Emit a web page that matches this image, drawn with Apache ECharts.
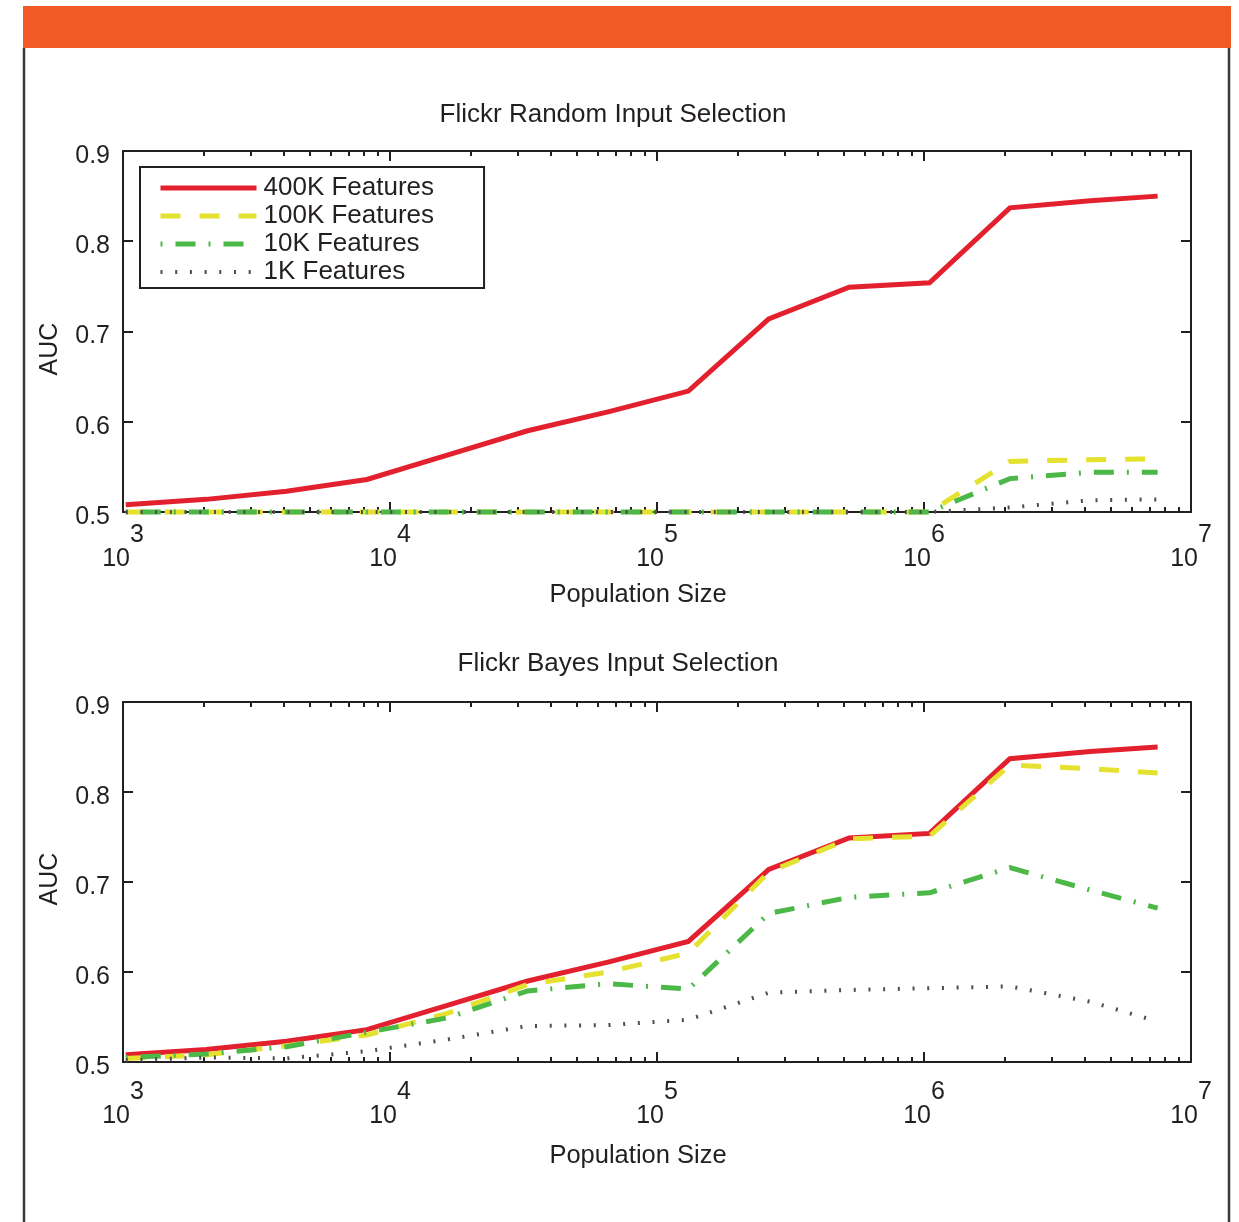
<!DOCTYPE html>
<html>
<head>
<meta charset="utf-8">
<title>Flickr input selection</title>
<script src="https://cdn.jsdelivr.net/npm/echarts@6/dist/echarts.min.js"></script>
<style>
  html, body { margin: 0; padding: 0; background: #fff; }
  #chart { width: 1239px; height: 1222px; }
</style>
</head>
<body>
<div id="chart"></div>
<script>
// x: population sizes shared by every curve
const popSizes = [1024, 2048, 4096, 8192, 16384, 32768, 65536, 131072, 262144, 524288, 1048576, 2097152, 4194304, 7500000];

const seriesNames = ['400K Features', '100K Features', '10K Features', '1K Features'];

// top panel: Flickr Random Input Selection
const random400K = [0.508, 0.514, 0.523, 0.536, 0.563, 0.590, 0.611, 0.634, 0.714, 0.749, 0.754, 0.837, 0.845, 0.850];
const random100K = [0.500, 0.500, 0.500, 0.500, 0.500, 0.500, 0.500, 0.500, 0.500, 0.500, 0.500, 0.556, 0.558, 0.559];
const random10K  = [0.500, 0.500, 0.500, 0.500, 0.500, 0.500, 0.500, 0.500, 0.500, 0.500, 0.500, 0.537, 0.544, 0.544];
const random1K   = [0.500, 0.500, 0.500, 0.500, 0.500, 0.500, 0.500, 0.500, 0.500, 0.500, 0.500, 0.505, 0.513, 0.514];

// bottom panel: Flickr Bayes Input Selection
const bayes400K = [0.508, 0.514, 0.523, 0.536, 0.563, 0.590, 0.611, 0.634, 0.714, 0.749, 0.754, 0.837, 0.845, 0.850];
const bayes100K = [0.504, 0.508, 0.518, 0.530, 0.554, 0.586, 0.600, 0.621, 0.711, 0.748, 0.751, 0.830, 0.826, 0.821];
const bayes10K  = [0.505, 0.509, 0.517, 0.533, 0.549, 0.579, 0.587, 0.581, 0.665, 0.683, 0.688, 0.716, 0.691, 0.671];
const bayes1K   = [0.502, 0.505, 0.504, 0.512, 0.525, 0.540, 0.541, 0.547, 0.577, 0.580, 0.582, 0.584, 0.567, 0.545];

const decades = [1e3, 1e4, 1e5, 1e6];
const minorMults = [2, 3, 4, 5, 6, 7, 8, 9];
const minorTicks = decades.flatMap(d => minorMults.map(m => d * m));

const INK = '#231f20';
const FONT = '"Liberation Sans", Arial, Helvetica, sans-serif';

const styles = {
  '400K Features': { color: '#e3202d', width: 5, type: 'solid' },
  '100K Features': { color: '#e4e12f', width: 5, type: [20, 19] },
  '10K Features':  { color: '#4cb848', width: 5, type: [2, 13, 20, 13] },
  '1K Features':   { color: '#4d4d4d', width: 4, type: [2, 12.7] },
};

function makeSeries(name, values, xIdx, yIdx) {
  const s = styles[name];
  return {
    name, type: 'line', xAxisIndex: xIdx, yAxisIndex: yIdx,
    data: popSizes.map((p, i) => [p, values[i]]),
    symbol: 'none', clip: false, animation: false,
    lineStyle: { color: s.color, width: s.width, type: s.type, cap: 'butt', join: 'miter' },
    itemStyle: { color: s.color },
  };
}

function xAxes(gridIndex, labelMargin) {
  const common = { type: 'log', logBase: 10, min: 1e3, max: 1e7, gridIndex, splitLine: { show: false } };
  const line = { show: true, lineStyle: { color: INK, width: 2 } };
  const major = { show: true, inside: true, length: 10, lineStyle: { color: INK, width: 2 } };
  const minor = { show: true, inside: true, length: 5, customValues: minorTicks, lineStyle: { color: INK, width: 2 } };
  return [
    {
      ...common, position: 'bottom', axisLine: line, axisTick: major,
      axisLabel: {
        margin: labelMargin,
        formatter: v => '{b|10}{e|' + Math.round(Math.log10(v)) + '}',
        rich: {
          b: { fontSize: 25, fontFamily: FONT, color: INK, verticalAlign: 'bottom' },
          e: { fontSize: 25, fontFamily: FONT, color: INK, verticalAlign: 'bottom', padding: [0, 0, 24, 0] },
        },
      },
    },
    { ...common, position: 'bottom', axisLine: { show: false }, axisTick: minor, axisLabel: { show: false } },
    { ...common, position: 'top', axisLine: line, axisTick: major, axisLabel: { show: false } },
    { ...common, position: 'top', axisLine: { show: false }, axisTick: minor, axisLabel: { show: false } },
  ];
}

function yAxes(gridIndex) {
  const common = { type: 'value', min: 0.5, max: 0.9, interval: 0.1, gridIndex, splitLine: { show: false },
    axisLine: { show: true, lineStyle: { color: INK, width: 2 } },
    axisTick: { show: true, inside: true, length: 10, lineStyle: { color: INK, width: 2 } } };
  return [
    { ...common, position: 'left',
      axisLabel: {
        margin: 13,
        formatter: v => '{v|' + v.toFixed(1) + '}',
        rich: { v: { fontSize: 25, fontFamily: FONT, color: INK, verticalAlign: 'bottom', padding: [10, 0, 0, 0] } },
      } },
    { ...common, position: 'right', axisLabel: { show: false } },
  ];
}

function text(str, x, y, size, rotation) {
  return {
    type: 'text', x, y, rotation: rotation || 0,
    style: { text: str, font: size + 'px ' + FONT, fill: INK, textAlign: 'center', textVerticalAlign: 'middle' },
  };
}

const chart = echarts.init(document.getElementById('chart'));

chart.setOption({
  backgroundColor: '#fff',
  animation: false,
  grid: [
    { left: 123, top: 151, width: 1068, height: 361 },
    { left: 123, top: 702, width: 1068, height: 360 },
  ],
  xAxis: [...xAxes(0, 11), ...xAxes(1, 18)],
  yAxis: [...yAxes(0), ...yAxes(1)],
  legend: {
    data: seriesNames.map(name => ({
      name,
      itemStyle: { opacity: 0 },
      lineStyle: { width: styles[name].width, type: styles[name].type, color: styles[name].color },
    })),
    orient: 'vertical', left: 140, top: 167,
    padding: [8, 50, 3, 18],
    itemWidth: 96, itemHeight: 20, itemGap: 2,
    borderColor: INK, borderWidth: 2, borderRadius: 0,
    textStyle: { fontSize: 26, fontFamily: FONT, color: INK, lineHeight: 24, padding: [0, 0, 0, 2] },
  },
  graphic: [
    { type: 'rect', shape: { x: 23, y: 6, width: 1208, height: 42 }, style: { fill: '#f15a24' } },
    { type: 'line', shape: { x1: 24, y1: 48, x2: 24, y2: 1222 }, style: { stroke: '#3a3a3a', lineWidth: 2.5 } },
    { type: 'line', shape: { x1: 1229, y1: 48, x2: 1229, y2: 1222 }, style: { stroke: '#3a3a3a', lineWidth: 2.5 } },
    text('Flickr Random Input Selection', 613, 115, 26),
    text('Flickr Bayes Input Selection', 618, 664, 26),
    text('Population Size', 638, 595, 25.5),
    text('Population Size', 638, 1156, 25.5),
    text('AUC', 50, 349, 25, Math.PI / 2),
    text('AUC', 50, 879, 25, Math.PI / 2),
  ],
  series: [
    makeSeries(seriesNames[0], random400K, 0, 0),
    makeSeries(seriesNames[1], random100K, 0, 0),
    makeSeries(seriesNames[2], random10K, 0, 0),
    makeSeries(seriesNames[3], random1K, 0, 0),
    makeSeries(seriesNames[0], bayes400K, 4, 2),
    makeSeries(seriesNames[1], bayes100K, 4, 2),
    makeSeries(seriesNames[2], bayes10K, 4, 2),
    makeSeries(seriesNames[3], bayes1K, 4, 2),
  ],
});
</script>
</body>
</html>
